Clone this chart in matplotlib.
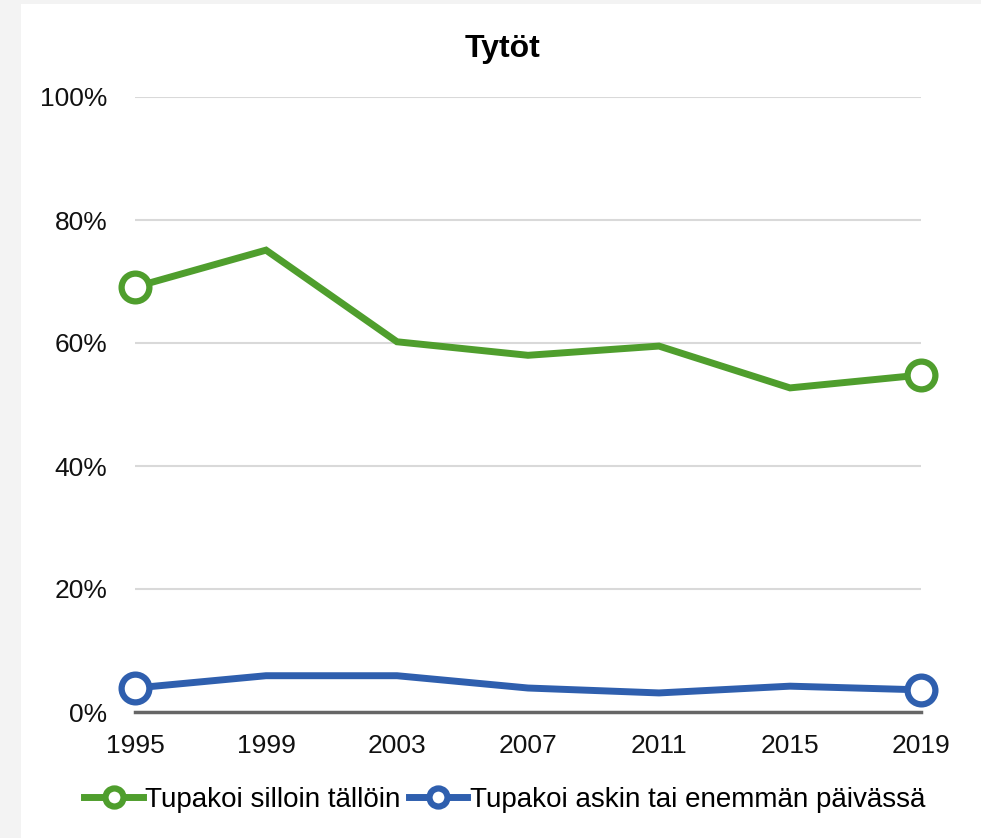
import matplotlib.pyplot as plt
from matplotlib.patches import Rectangle
from matplotlib.ticker import FuncFormatter

plt.rcParams['font.family'] = ['Liberation Sans', 'DejaVu Sans']

years = [1995, 1999, 2003, 2007, 2011, 2015, 2019]
silloin = [69.1, 75.1, 60.2, 58.0, 59.5, 52.7, 54.8]
askin = [3.9, 5.9, 5.9, 3.9, 3.1, 4.2, 3.6]
labels = ["Tupakoi silloin tällöin", "Tupakoi askin tai enemmän päivässä"]

green = "#4f9e2d"
blue = "#2f5fae"

fig = plt.figure(figsize=(9.81, 8.38), dpi=100, facecolor="#f3f3f3")
# white panel behind everything
fig.patches.append(Rectangle((21/981, 0), 1, 1 - 4/838, transform=fig.transFigure,
                             facecolor="white", edgecolor="none", zorder=-10))
ax = fig.add_axes([135/981, 1 - 712/838, (921 - 135)/981, (712 - 97)/838])
ax.set_facecolor("none")

for vals, col, lab in [(silloin, green, labels[0]), (askin, blue, labels[1])]:
    ax.plot(years, vals, color=col, lw=5, solid_joinstyle="miter", label=lab,
            marker="o", markevery=[0, len(years) - 1], markersize=20,
            markerfacecolor="white", markeredgecolor=col, markeredgewidth=4.5,
            clip_on=False, zorder=3)

ax.set_xlim(1995, 2019)
ax.set_ylim(0, 100)
ax.set_xticks(years)
ax.set_yticks(range(0, 101, 20))
ax.yaxis.set_major_formatter(FuncFormatter(lambda v, p: f"{v:.0f}%"))
ax.grid(axis="y", color="#d9d9d9", lw=1.5)
ax.set_axisbelow(True)
for s in ["top", "right", "left"]:
    ax.spines[s].set_visible(False)
ax.spines["bottom"].set_color("#666666")
ax.spines["bottom"].set_linewidth(2.5)
ax.tick_params(axis="both", length=0, labelsize=19, labelcolor="#111111")
ax.tick_params(axis="y", pad=20)
ax.tick_params(axis="x", pad=16)

ax.set_title("Tytöt", fontsize=23, fontweight="bold", pad=29, x=(502 - 135)/786)

leg = ax.legend(loc="center", bbox_to_anchor=(505/981, 1 - 800/838), bbox_transform=fig.transFigure,
                ncol=2, frameon=False, fontsize=20, handlelength=2.1, handletextpad=0.1,
                columnspacing=0.3, numpoints=1, markerscale=0.65)
for h in leg.legend_handles:
    n = len(h.get_xdata())
    h.set_markevery([n // 2])

fig.savefig("out.png", dpi=100, facecolor=fig.get_facecolor())
